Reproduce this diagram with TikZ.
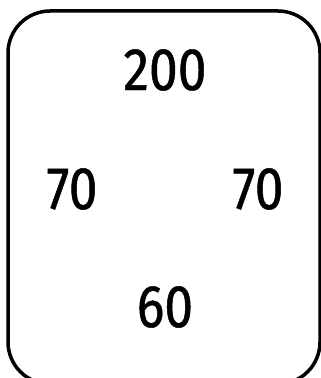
\documentclass[tikz,border=0pt]{standalone}
\usepackage{fontspec}
\setmainfont{Fira Sans}[FakeStretch=0.86, FakeBold=0.8]
\usetikzlibrary{positioning}

\tikzset{
  num/.style={font=\fontsize{60}{64}\selectfont, inner sep=0pt},
  frame/.style={line width=3.5pt, rounded corners=42pt}
}

\begin{document}
\begin{tikzpicture}[x=1pt, y=1pt]
  \useasboundingbox (0,0) rectangle (321,378);

  % outer box, running off the right and bottom edges
  \begin{scope}
    \clip (0,0) rectangle (321,378);
    \draw[frame] (8,-6) rectangle (320,367);
  \end{scope}

  % numbers
  \node[num] (top) at (165,308) {200};
  \node[num] (left) at (72,189) {70};
  \node[num] (right) at (258,189) {70};
  \node[num] (bottom) at (165,71) {60};
\end{tikzpicture}
\end{document}
